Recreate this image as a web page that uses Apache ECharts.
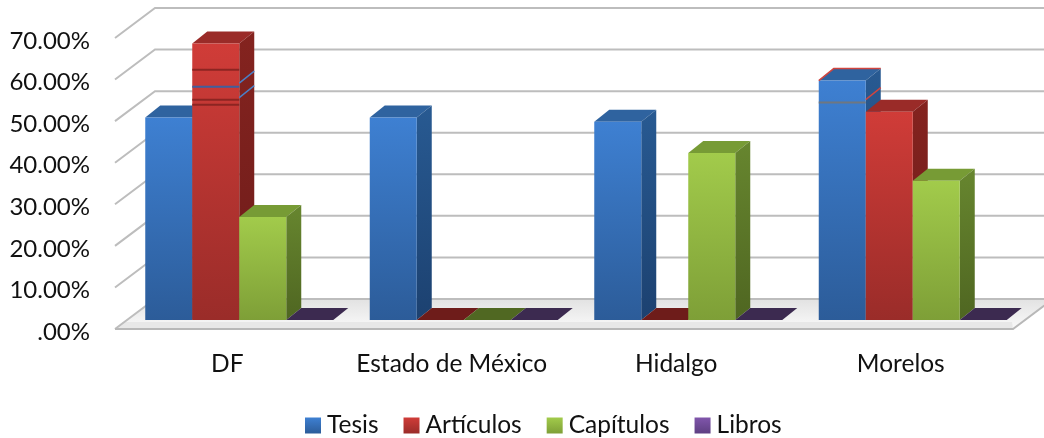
<!DOCTYPE html>
<html>
<head>
<meta charset="utf-8">
<script src="https://cdn.jsdelivr.net/npm/echarts@6/dist/echarts.min.js"></script>
<style>
  html, body { margin: 0; padding: 0; background: #fff; }
  #chart { width: 1044px; height: 438px; filter: blur(0.7px); }
</style>
</head>
<body>
<div id="chart"></div>
<script>
const categories = ["DF", "Estado de México", "Hidalgo", "Morelos"];
const ticks = [0, 10, 20, 30, 40, 50, 60, 70];
const tesis = [48.7, 48.7, 47.7, 57.6];
const articulos = [66.5, 0, 0, 50.1];
const capitulos = [24.8, 0, 40.2, 33.5];
const libros = [0, 0, 0, 0];
// stray lines the original picture has across two of the bars: category, series, value, colour
const streaks = [
  [0, 1, 60.2, "#8c2522"],
  [0, 1, 56.1, "#3f5f9e"],
  [0, 1, 53, "#8c2522"],
  [0, 1, 51.8, "#8c2522"],
  [3, 0, 52.3, "#6f7780"],
];
// same thing on the side faces
const sideStreaks = [
  [0, 1, 57, "#4a80c8"],
  [0, 1, 53.5, "#4a80c8"],
  [3, 0, 53, "#d0453f"],
];
// top faces with a coloured edge: category, series, colour
const topEdges = [
  [3, 0, "#d0453f"],
];

const palette = [
  { name: "Tesis", hi: "#3e80d2", lo: "#2c5c99", top: "#2f639f", sideHi: "#285a92", sideLo: "#1c4170", flat: "#1f4a7c" },
  { name: "Artículos", hi: "#d03c38", lo: "#9a2c29", top: "#9a2b28", sideHi: "#84231f", sideLo: "#6e1c1a", flat: "#6e1c1a" },
  { name: "Capítulos", hi: "#a2cb4b", lo: "#7e9f37", top: "#779b35", sideHi: "#67862f", sideLo: "#4f6621", flat: "#506822" },
  { name: "Libros", hi: "#8056ab", lo: "#5e3f82", top: "#5e3f82", sideHi: "#4a3268", sideLo: "#3c2a50", flat: "#3c2a50" },
];
const seriesValues = [tesis, articulos, capitulos, libros];

const wallDx = 40, wallDy = -30;
const barW = 47, barDx = 15, barDy = -12, groupLeft = -82, baseLift = -9;

function grad(hi, lo) {
  return new echarts.graphic.LinearGradient(0, 0, 0, 1, [
    { offset: 0, color: hi },
    { offset: 1, color: lo },
  ]);
}

function renderWall(params, api) {
  const v = api.value(1);
  const rect = params.coordSys;
  const y = api.coord([0, v])[1];
  const x0 = rect.x, x1 = rect.x + rect.width;
  const children = [];
  if (v === 0) {
    // floor and its front slab
    children.push({
      type: "polygon",
      shape: { points: [[x0, y], [x1, y], [x1 + wallDx, y + wallDy], [x0 + wallDx, y + wallDy]] },
      style: { fill: grad("#e2e2e2", "#fafafa") },
    });
    children.push({
      type: "polygon",
      shape: { points: [[x0 + 8, y - 7], [x1 - 1, y - 7], [x1, y], [x0, y]] },
      style: { fill: "#e8e8e8" },
    });
  }
  children.push({
    type: "polyline",
    shape: { points: [[x0, y], [x0 + wallDx, y + wallDy], [x1 + wallDx, y + wallDy]] },
    style: { fill: null, stroke: "#bdbdbd", lineWidth: 2 },
  });
  if (v === 0) {
    children.push({
      type: "polyline",
      shape: { points: [[x0, y], [x1, y], [x1 + wallDx, y + wallDy]] },
      style: { fill: null, stroke: "#b8b8b8", lineWidth: 2 },
    });
  }
  return { type: "group", children };
}

function makeBarRenderer(s) {
  const c = palette[s];
  return function (params, api) {
    const cat = api.value(0);
    const val = api.value(1);
    const cx = api.coord([cat, val])[0];
    const x = cx + groupLeft + s * barW;
    const y = api.coord([cat, val])[1] + baseLift;
    const base = api.coord([cat, 0])[1] + baseLift;
    const topPts = [[x, y], [x + barW, y], [x + barW + barDx, y + barDy], [x + barDx, y + barDy]];
    if (val === 0) {
      return { type: "polygon", shape: { points: topPts }, style: { fill: c.flat } };
    }
    const children = [
      { type: "polygon", shape: { points: topPts }, style: { fill: c.top } },
      {
        type: "polygon",
        shape: { points: [[x + barW, y], [x + barW + barDx, y + barDy], [x + barW + barDx, base + barDy], [x + barW, base]] },
        style: { fill: grad(c.sideHi, c.sideLo) },
      },
      { type: "rect", shape: { x: x, y: y, width: barW, height: base - y }, style: { fill: grad(c.hi, c.lo) } },
    ];
    topEdges.forEach(function (te) {
      if (te[0] !== cat || te[1] !== s) return;
      children.push({
        type: "polyline",
        shape: { points: [[x, y], [x + barDx, y + barDy], [x + barW + barDx, y + barDy]] },
        style: { fill: null, stroke: te[2], lineWidth: 1.5 },
      });
    });
    streaks.forEach(function (st) {
      if (st[0] !== cat || st[1] !== s) return;
      const sy = api.coord([cat, st[2]])[1] + baseLift;
      children.push({
        type: "line",
        shape: { x1: x, y1: sy, x2: x + barW, y2: sy },
        style: { stroke: st[3], lineWidth: 2 },
      });
    });
    sideStreaks.forEach(function (st) {
      if (st[0] !== cat || st[1] !== s) return;
      const sy = api.coord([cat, st[2]])[1] + baseLift;
      children.push({
        type: "line",
        shape: { x1: x + barW, y1: sy, x2: x + barW + barDx, y2: sy + barDy },
        style: { stroke: st[3], lineWidth: 1.5 },
      });
    });
    return { type: "group", children };
  };
}

const font = "Lato, 'Open Sans', sans-serif";
const series = [{
  type: "custom",
  name: "wall",
  silent: true,
  z: 1,
  renderItem: renderWall,
  data: ticks.map((t) => [0, t]),
  encode: { x: 0, y: 1 },
}];
palette.forEach(function (c, s) {
  series.push({
    type: "custom",
    name: c.name,
    z: 2 + s,
    renderItem: makeBarRenderer(s),
    itemStyle: { color: c.hi },
    data: seriesValues[s].map((v, i) => [i, v]),
    encode: { x: 0, y: 1 },
  });
});

const myChart = echarts.init(document.getElementById("chart"), null, { renderer: "canvas" });
myChart.setOption({
  animation: false,
  backgroundColor: "#fff",
  grid: { left: 115, right: 31, top: 38, bottom: 109, containLabel: false },
  xAxis: {
    type: "category",
    data: categories,
    axisLine: { show: false },
    axisTick: { show: false },
    axisLabel: { color: "#111", fontFamily: font, fontSize: 24.5, margin: 23, interval: 0 },
  },
  yAxis: {
    type: "value",
    min: 0,
    max: 70,
    interval: 10,
    axisLine: { show: false },
    axisTick: { show: false },
    splitLine: { show: false },
    axisLabel: {
      color: "#111",
      fontFamily: font,
      fontSize: 24,
      margin: 25,
      verticalAlign: "top",
      lineHeight: 6,
      formatter: (v) => (v === 0 ? ".00%" : v.toFixed(2) + "%"),
    },
  },
  legend: {
    left: 305,
    top: 413,
    padding: 0,
    itemWidth: 16,
    itemHeight: 16,
    itemGap: 25,
    icon: "rect",
    selectedMode: false,
    textStyle: { color: "#111", fontFamily: font, fontSize: 24.5, padding: [0, 0, 0, 1] },
    data: palette.map((c) => ({
      name: c.name,
      itemStyle: { color: grad(c.hi, c.lo) },
    })),
  },
  series: series,
});
window.addEventListener("resize", () => {
  myChart.resize();
});
</script>
</body>
</html>
